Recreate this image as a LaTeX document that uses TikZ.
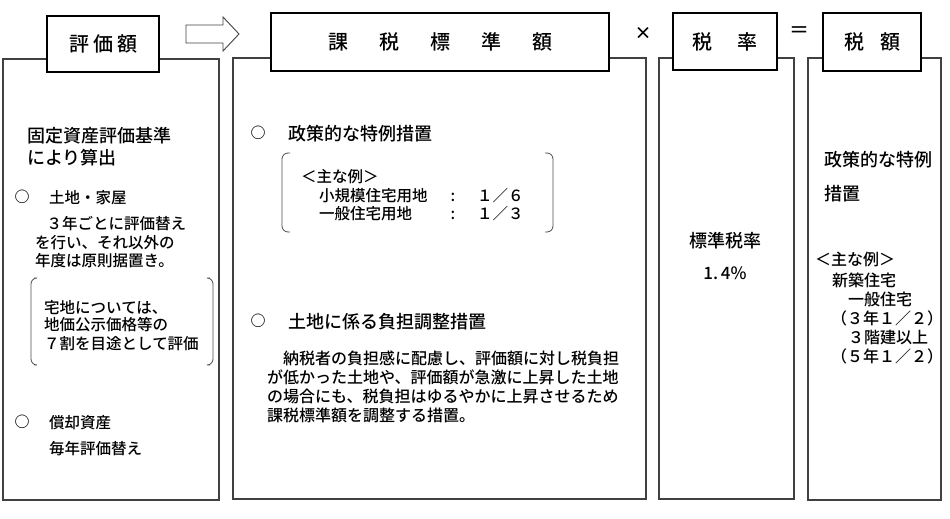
\documentclass[tikz,border=0pt]{standalone}
\usepackage{fontspec}
\setmainfont{Noto Sans CJK JP}[UprightFont={* Medium}, BoldFont={* Bold}]
\begin{document}
\begin{tikzpicture}[x=1pt,y=-1pt,
    panel/.style = {draw=black!75, line width=1.2pt},
    title/.style = {draw=black, line width=2.2pt, fill=white, inner sep=0pt,
                    font=\fontsize{20}{24}\selectfont},
    txt/.style = {anchor=base west, inner sep=0pt,
                  font=\fontsize{#1}{#1}\selectfont},
    txt/.default = 15.5,
    mid/.style = {anchor=base, inner sep=0pt, font=\fontsize{#1}{#1}\selectfont},
    bullet/.style = {inner sep=0pt, font=\bfseries\fontsize{15}{15}\selectfont},
    brace/.style = {draw=black!70, line width=0.8pt, rounded corners=6pt}
                    ]
        \useasboundingbox (0,0) rectangle (950,519);
        % panels
        \draw[panel] (3,59) rectangle (219,500);
        \draw[panel] (233,58) rectangle (646,499);
        \draw[panel] (659,58) rectangle (794,499);
        \draw[panel] (808,58) rectangle (941,500);
        % titles
        \node[title, minimum width=112, minimum height=56] (hyoka) at (103,44)
            {評\hspace{4pt}価\hspace{4pt}額};
        \node[title, minimum width=338, minimum height=58] (kazei) at (440,42)
            {課\hspace{31pt}税\hspace{31pt}標\hspace{31pt}準\hspace{31pt}額};
        \node[title, minimum width=104, minimum height=57] (ritsu) at (725,41.5)
            {税\hspace{25pt}率};
        \node[title, minimum width=98, minimum height=58] (zeigaku) at (872,42)
            {税\hspace{16pt}額};
        % arrow and operators
        \draw[draw=black!75, line width=0.9pt] (186,25) -- (223,25) -- (223,17)
            -- (239,34) -- (223,51) -- (223,43) -- (186,43) -- cycle;
        \node[inner sep=0pt, font=\bfseries\fontsize{17}{17}\selectfont] (times) at (643,33) {×};
        \node[inner sep=0pt, font=\fontsize{20}{20}\selectfont] (equals) at (799,32) {＝};
        % bullets
        \foreach \x/\y [count=\i] in {22/197, 22/422, 258/133, 258/321}
            \node[bullet] (b\i) at (\x,\y) {○};
        % brackets
        \draw[brace] (34,278) -- (31,278) -- (31,365) -- (34,365);
        \draw[brace] (210,278) -- (213,278) -- (213,365) -- (210,365);
        \draw[brace] (290,153) -- (282,153) -- (282,232) -- (290,232);
        \draw[brace] (545,153) -- (553,153) -- (553,232) -- (545,232);
        % left panel
        \node[txt=18] (h1) at (27,142) {固定資産評価基準};
        \node[txt=18] (h2) at (27,164) {により算出};
        \foreach \x/\y/\t [count=\i] in {49/203/土地・家屋, 31/229/　３年ごとに評価替え,
                35/248/を行い、それ以外の, 35/266/年度は原則据置き。,
                44/313/宅地については、, 44/330/地価公示価格等の,
                44/349/７割を目途として評価, 49/428/償却資産, 49/454/毎年評価替え}
            \node[txt] (l\i) at (\x,\y) {\t};
        % base amount panel
        \node[txt=18] (k1) at (288,140) {政策的な特例措置};
        \node[txt=18] (k2) at (288,328) {土地に係る負担調整措置};
        \node[txt] (ex1) at (301,182) {＜主な例＞};
        \foreach \y/\t/\r [count=\i] in {201/小規模住宅用地/１／６, 219/一般住宅用地/１／３} {
            \node[txt] (u\i) at (319,\y) {\t};
            \node[mid=15.5] (c\i) at (453,\y) {:};
            \node[txt] (r\i) at (477,\y) {\r};
        }
        \foreach \x/\y/\t [count=\i] in {267/364/　納税者の負担感に配慮し、評価額に対し税負担,
                267/383/が低かった土地や、評価額が急激に上昇した土地,
                267/402/の場合にも、税負担はゆるやかに上昇させるため,
                267/421/課税標準額を調整する措置。}
            \node[txt=16] (p\i) at (\x,\y) {\t};
        % rate panel
        \node[mid=18] (std) at (725,247) {標準税率};
        \node[mid=17] (pct) at (725,279) {1.\,4\%};
        % tax panel
        \node[txt=18] (z1) at (824,166) {政策的な特例};
        \node[txt=18] (z2) at (824,200) {措置};
        \foreach \x/\y/\t [count=\i] in {815/265/＜主な例＞, 832/286/新築住宅,
                848/305/一般住宅, 831/324/（３年１／２）, 848/343/３階建以上,
                831/362/（５年１／２）}
            \node[txt=16] (e\i) at (\x,\y) {\t};
    \end{tikzpicture}
\end{document}
